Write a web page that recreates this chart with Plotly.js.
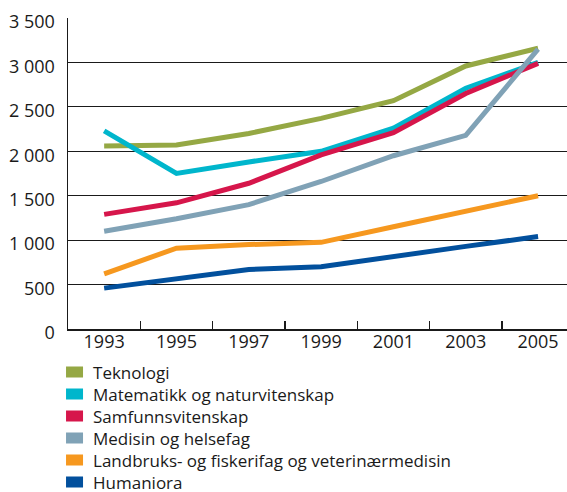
<!DOCTYPE html>
<html>
<head>
<meta charset="utf-8">
<script src="https://cdn.plot.ly/plotly-3.0.1.min.js"></script>
<style>html,body{margin:0;padding:0;background:#fff;}#chart{width:567px;height:492px;}</style>
</head>
<body>
<div id="chart"></div>
<script>
const years = ["1993", "1995", "1997", "1999", "2001", "2003", "2005"];
const names = ["Teknologi", "Matematikk og naturvitenskap", "Samfunnsvitenskap", "Medisin og helsefag", "Landbruks- og fiskerifag og veterinærmedisin", "Humaniora"];
const teknologi   = [2060, 2070, 2200, 2370, 2570, 2960, 3160];
const matematikk  = [2230, 1750, 1880, 2000, 2260, 2710, 3000];
const samfunn     = [1290, 1420, 1640, 1960, 2210, 2650, 2990];
const medisin     = [1100, 1240, 1400, 1660, 1950, 2180, 3150];
const landbruk    = [620, 910, 950, 975, 1150, 1330, 1500];
const humaniora   = [460, 560, 670, 700, 820, 930, 1040];
const seriesValues = [teknologi, matematikk, samfunn, medisin, landbruk, humaniora];
const colors = ["#95a844", "#00b6cc", "#d6164b", "#80a2b6", "#f6981f", "#02509d"];
const yTicks = [0, 500, 1000, 1500, 2000, 2500, 3000, 3500];
const yTickText = ["0", "500", "1 000", "1 500", "2 000", "2 500", "3 000", "3 500"];

const font = "'Open Sans', 'Noto Sans', 'DejaVu Sans', sans-serif";
const traces = [];
seriesValues.forEach((vals, i) => {
  traces.push({
    x: years, y: vals, type: "scatter", mode: "lines",
    line: {color: colors[i], width: 5}, showlegend: false, hoverinfo: "skip"
  });
});
const layout = {
  width: 567, height: 492,
  margin: {l: 68, r: 0, t: 18, b: 163, autoexpand: false},
  paper_bgcolor: "#fff", plot_bgcolor: "#fff",
  font: {family: font, size: 18, color: "#1a1a1a"},
  showlegend: true,
  xaxis: {
    type: "category", range: [-0.5, 6.4],
    showgrid: false, zeroline: false,
    showline: true, linecolor: "#1a1a1a", linewidth: 1.5,
    ticks: "inside", ticklen: 8, tickcolor: "#1a1a1a", tickwidth: 1.5,
    tickson: "boundaries", ticklabelstandoff: -4, fixedrange: true
  },
  yaxis: {
    range: [0, 3500], tickvals: yTicks, ticktext: yTickText,
    showgrid: true, gridcolor: "#1a1a1a", gridwidth: 1,
    zeroline: false, showline: true, linecolor: "#1a1a1a", linewidth: 1.5,
    ticks: "", ticklabelstandoff: 8, ticklabelshift: 4, fixedrange: true
  }
};
// one legend per entry so rows sit 22px apart
const plotTop = 18, plotH = 311, firstRow = 372.5, rowStep = 22;
names.forEach((n, i) => {
  const key = i === 0 ? "legend" : "legend" + (i + 1);
  traces.push({
    x: [null], y: [null], type: "scatter", mode: "markers", name: n,
    marker: {symbol: "square", size: 12, color: colors[i]}, showlegend: true,
    legend: key
  });
  const ypx = firstRow + rowStep * i;
  layout[key] = {
    x: -0.03, y: (plotTop + plotH - ypx) / plotH, xanchor: "left", yanchor: "middle",
    font: {family: font, size: 17, color: "#1a1a1a"},
    bgcolor: "rgba(0,0,0,0)"
  };
});
function rectKeys() {
  // legend keys in the reference are 17x11 rectangles
  document.querySelectorAll("#chart .legendpoints path").forEach(p => {
    p.setAttribute("d", "M10,5.5H-7V-5.5H10Z");
  });
}
const gd = document.getElementById("chart");
Plotly.newPlot(gd, traces, layout, {displayModeBar: false, staticPlot: true}).then(() => {
  rectKeys();
  gd.on("plotly_afterplot", rectKeys);
  setTimeout(rectKeys, 50);
});
</script>
</body>
</html>
